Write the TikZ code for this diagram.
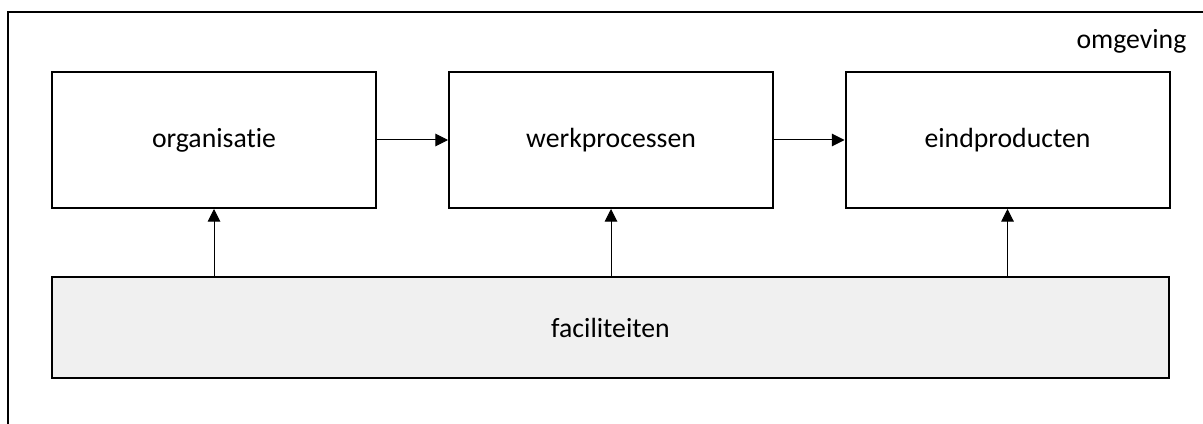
\documentclass[tikz,border=0pt]{standalone}
\usepackage{fontspec}
\setmainfont{Carlito}[Ligatures={NoCommon}]
\usetikzlibrary{arrows.meta}
\tikzstyle{blok} = [rectangle, minimum width=243pt, minimum height=102pt, text centered, draw=black, line width=1.5pt, fill=white]
\tikzstyle{basis} = [rectangle, minimum width=837.75pt, minimum height=75.75pt, text centered, draw=black, line width=1.5pt, fill=black!6]
\tikzstyle{arrow} = [line width=0.75pt,->,>={Triangle[length=9.5pt,width=9.5pt]}]

\begin{document}
\begin{tikzpicture}[x=0.75pt,y=-0.75pt,font=\fontsize{20.8pt}{25pt}\selectfont]
\clip (0,0) rectangle (1203,424);
\fill[white] (0,0) rectangle (1203,424);

% omgeving
\draw[line width=1.5pt] (8,12) rectangle (1220,440);
\node[anchor=east] (omg) at (1191,41) {omgeving};

\node[blok] (org) at (214,140) {organisatie};
\node[blok] (wp) at (611,140) {werkprocessen};
\node[blok] (ep) at (1007.5,140) {eindproducten};
\node[basis] (fac) at (610.5,327.5) {faciliteiten};

\draw[arrow] (org) -- (wp);
\draw[arrow] (wp) -- (ep);
\foreach \b in {org,wp,ep}{
	\draw[arrow] (fac.north -| \b) -- (\b.south);}
\end{tikzpicture}
\end{document}
